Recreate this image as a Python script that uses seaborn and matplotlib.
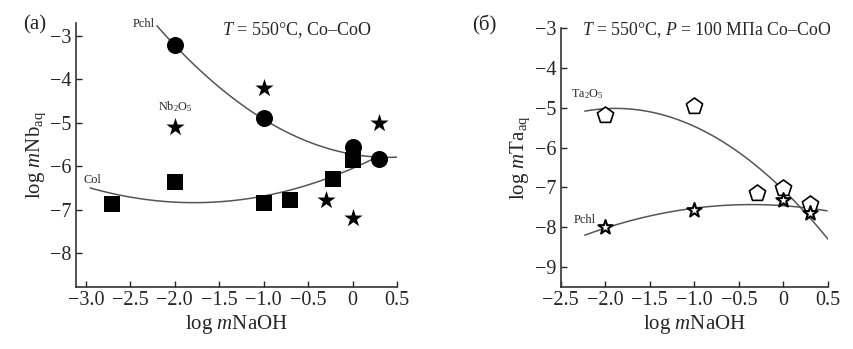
import numpy as np
import pandas as pd
import matplotlib
matplotlib.use("Agg")
import matplotlib.pyplot as plt
import seaborn as sns

# ---------------- data ----------------
# Panel (a): Nb
pchl_a_x = [-2.0, -1.0, 0.0, 0.3]
pchl_a_y = [-3.22, -4.90, -5.57, -5.84]
col_a_x = [-2.7, -2.0, -1.0, -0.7, -0.22, 0.0]
col_a_y = [-6.88, -6.36, -6.84, -6.78, -6.30, -5.85]
nb2o5_a_x = [-2.0, -1.0, -0.3, 0.0, 0.3]
nb2o5_a_y = [-5.09, -4.21, -6.78, -7.20, -5.00]
# trend curves, points
pchl_a_curve_x = [-2.2, -2.0, -1.75, -1.5, -1.25, -1.0, -0.75, -0.5, -0.25, 0.0, 0.25, 0.5]
pchl_a_curve_y = [-2.77, -3.22, -3.73, -4.18, -4.58, -4.92, -5.21, -5.44, -5.61, -5.72, -5.78, -5.80]
col_a_curve_x = [-2.95, -2.5, -2.0, -1.5, -1.0, -0.6, -0.3, 0.0, 0.27]
col_a_curve_y = [-6.53, -6.68, -6.80, -6.83, -6.72, -6.50, -6.28, -6.05, -5.79]

# Panel (b): Ta
ta2o5_b_x = [-2.0, -1.0, -0.3, 0.0, 0.3]
ta2o5_b_y = [-5.18, -4.95, -7.15, -7.01, -7.43]
pchl_b_x = [-2.0, -1.0, 0.0, 0.3]
pchl_b_y = [-7.99, -7.56, -7.32, -7.66]
ta2o5_b_curve_x = [-2.23, -2.0, -1.75, -1.5, -1.25, -1.0, -0.75, -0.5, -0.25, 0.0, 0.25, 0.5]
ta2o5_b_curve_y = [-5.08, -5.03, -5.03, -5.10, -5.25, -5.46, -5.76, -6.12, -6.57, -7.07, -7.66, -8.30]
pchl_b_curve_x = [-2.23, -2.0, -1.5, -1.0, -0.5, -0.27, 0.0, 0.25, 0.49]
pchl_b_curve_y = [-8.19, -8.02, -7.76, -7.56, -7.43, -7.40, -7.43, -7.52, -7.63]

# ticks
xticks_a = [-3.0, -2.5, -2.0, -1.5, -1.0, -0.5, 0.0, 0.5]
xticklabels_a = ["−3.0", "−2.5", "−2.0", "−1.5", "−1.0", "−0.5", "0", "0.5"]
yticks_a = [-3, -4, -5, -6, -7, -8]
yticklabels_a = ["−3", "−4", "−5", "−6", "−7", "−8"]
xticks_b = [-2.5, -2.0, -1.5, -1.0, -0.5, 0.0, 0.5]
xticklabels_b = ["−2.5", "−2.0", "−1.5", "−1.0", "−0.5", "0", "0.5"]
yticks_b = [-3, -4, -5, -6, -7, -8, -9]
yticklabels_b = ["−3", "−4", "−5", "−6", "−7", "−8", "−9"]

# ---------------- style ----------------
sns.set_style("ticks")
plt.rcParams["font.family"] = ["Liberation Serif", "DejaVu Serif"]
plt.rcParams["mathtext.fontset"] = "custom"
plt.rcParams["mathtext.rm"] = "Liberation Serif"
plt.rcParams["mathtext.it"] = "Liberation Serif:italic"
plt.rcParams["mathtext.bf"] = "Liberation Serif:bold"

fig = plt.figure(figsize=(8.54, 3.49), dpi=100)
ax1 = fig.add_axes([76 / 854, 1 - 287 / 349, (397 - 76) / 854, (287 - 22.7) / 349])
ax2 = fig.add_axes([560.7 / 854, 1 - 287 / 349, (828 - 560.7) / 854, (287 - 28.3) / 349])

curve_col = "#555555"
line_kw = dict(color=curve_col, lw=1.1)


def trend(ax, xs, ys):
    df = pd.DataFrame({"x": xs, "y": ys})
    sns.regplot(data=df, x="x", y="y", ax=ax, order=2, ci=None, scatter=False,
                truncate=True, line_kws=line_kw)


# ----- panel (a)
trend(ax1, pchl_a_curve_x, pchl_a_curve_y)
trend(ax1, col_a_curve_x, col_a_curve_y)
sns.scatterplot(x=col_a_x, y=col_a_y, ax=ax1, marker="s", s=117, color="black", edgecolor="black", linewidth=0, zorder=3)
sns.scatterplot(x=pchl_a_x, y=pchl_a_y, ax=ax1, marker="o", s=150, color="black", edgecolor="black", linewidth=0, zorder=3)
sns.scatterplot(x=nb2o5_a_x, y=nb2o5_a_y, ax=ax1, marker="*", s=190, color="black", edgecolor="black", linewidth=0, zorder=3)

ax1.set_xlim(-3.11, 0.5)
ax1.set_ylim(-8.78, -2.70)
ax1.set_xticks(xticks_a)
ax1.set_xticklabels(xticklabels_a)
ax1.set_yticks(yticks_a)
ax1.set_yticklabels(yticklabels_a)
ax1.set_xlabel("log $\\it{m}$NaOH", fontsize=15, labelpad=2)
ax1.set_ylabel("log $\\it{m}$Nb$_{\\rm aq}$", fontsize=15, labelpad=2)
ax1.text(-1.47, -2.87, "$\\it{T}$ = 550°C, Co–CoO", fontsize=13, ha="left", va="center")
ax1.text(-2.47, -2.72, "Pchl", fontsize=8.8, ha="left", va="center", clip_on=False)
ax1.text(-2.19, -4.64, "Nb$_2$O$_5$", fontsize=8.8, ha="left", va="center")
ax1.text(-3.03, -6.32, "Col", fontsize=8.8, ha="left", va="center")

# ----- panel (b)
trend(ax2, ta2o5_b_curve_x, ta2o5_b_curve_y)
trend(ax2, pchl_b_curve_x, pchl_b_curve_y)
sns.scatterplot(x=ta2o5_b_x, y=ta2o5_b_y, ax=ax2, marker="p", s=150, facecolor="white", edgecolor="black", linewidth=1.2, zorder=3)
sns.scatterplot(x=pchl_b_x, y=pchl_b_y, ax=ax2, marker="*", s=115, facecolor="white", edgecolor="black", linewidth=1.5, zorder=4)

ax2.set_xlim(-2.5, 0.5)
ax2.set_ylim(-9.51, -3.0)
ax2.set_xticks(xticks_b)
ax2.set_xticklabels(xticklabels_b)
ax2.set_yticks(yticks_b)
ax2.set_yticklabels(yticklabels_b)
ax2.set_xlabel("log $\\it{m}$NaOH", fontsize=15, labelpad=2)
ax2.set_ylabel("log $\\it{m}$Ta$_{\\rm aq}$", fontsize=15, labelpad=2)
ax2.text(-2.26, -3.04, "$\\it{T}$ = 550°C, $\\it{P}$ = 100 МПа Co–CoO", fontsize=12.8, ha="left", va="center", clip_on=False)
ax2.text(-2.385, -4.65, "Ta$_2$O$_5$", fontsize=8.8, ha="left", va="center")
ax2.text(-2.36, -7.82, "Pchl", fontsize=8.8, ha="left", va="center")

for ax in (ax1, ax2):
    sns.despine(ax=ax)
    ax.tick_params(direction="in", length=4, width=1, labelsize=14.5, pad=3)
    for sp in ("left", "bottom"):
        ax.spines[sp].set_linewidth(1.2)
        ax.spines[sp].set_color("#333333")

fig.text(23 / 854, 1 - 25 / 349, "(a)", fontsize=15, ha="left", va="center")
fig.text(472 / 854, 1 - 25 / 349, "(б)", fontsize=15, ha="left", va="center")

fig.savefig("out.png", dpi=100)
